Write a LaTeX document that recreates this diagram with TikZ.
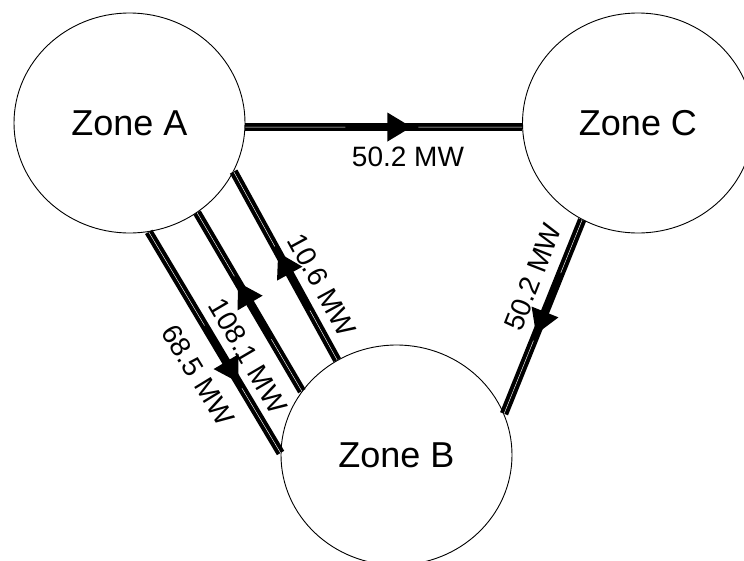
\documentclass[tikz,border=0pt]{standalone}
\usepackage{fontspec}
\setmainfont{Liberation Sans}
\usetikzlibrary{shapes.geometric,calc}
\tikzset{
  zone/.style={draw=black, line width=0.9pt, ellipse, minimum width=231pt, minimum height=220pt, inner sep=0pt, font=\fontsize{36}{40}\selectfont, fill=white},
  flowlbl/.style={font=\fontsize{28}{32}\selectfont, inner sep=0pt},
  flowbar/.style={line width=8.5pt, black},
  flowstripe/.style={line width=0.45pt, white}
}
\newcommand\flowline[3]{%
  \draw[flowbar] (#1) -- (#2);
  \coordinate (tip) at ($(#1)!#3!(#2)$);
  \coordinate (base) at ($(tip)!24pt!(#1)$);
  \coordinate (sol) at ($(tip)!66pt!(#1)$);
  \coordinate (res) at ($(tip)!7pt!(#2)$);
  \draw[flowstripe] (#1) -- (sol) (res) -- (#2);
  \fill[black] ($(base)!14.5pt!90:(tip)$) -- (tip) -- ($(base)!14.5pt!-90:(tip)$) -- cycle;
}
\begin{document}
\begin{tikzpicture}[x=1pt, y=-1pt]
\useasboundingbox (0,0) rectangle (744,560);
\node[zone] (A) at (129.5,123) {Zone A};
\node[zone] (C) at (638,123) {Zone C};
\node[zone] (B) at (396.5,455) {Zone B};
% A -> C
\flowline{A.-2}{C.182}{0.6}
% A -> B (68.5)
\flowline{A.-80.9}{B.179}{0.68}
% B -> A (108.1)
\flowline{B.146.3}{A.-53.1}{0.61}
% B -> A (10.6)
\flowline{B.122.5}{A.-25.4}{0.57}
% C -> B
\flowline{C.-120.8}{B.21.2}{0.59}
\node[flowlbl] (l1) at (408,157) {50.2 MW};
\node[flowlbl, rotate=-58.6] (l2) at (198,375) {68.5 MW};
\node[flowlbl, rotate=-59.6] (l3) at (248,356) {108.1 MW};
\node[flowlbl, rotate=-61.5] (l4) at (322,285) {10.6 MW};
\node[flowlbl, rotate=68.6] (l5) at (533,277) {50.2 MW};
\end{tikzpicture}
\end{document}
